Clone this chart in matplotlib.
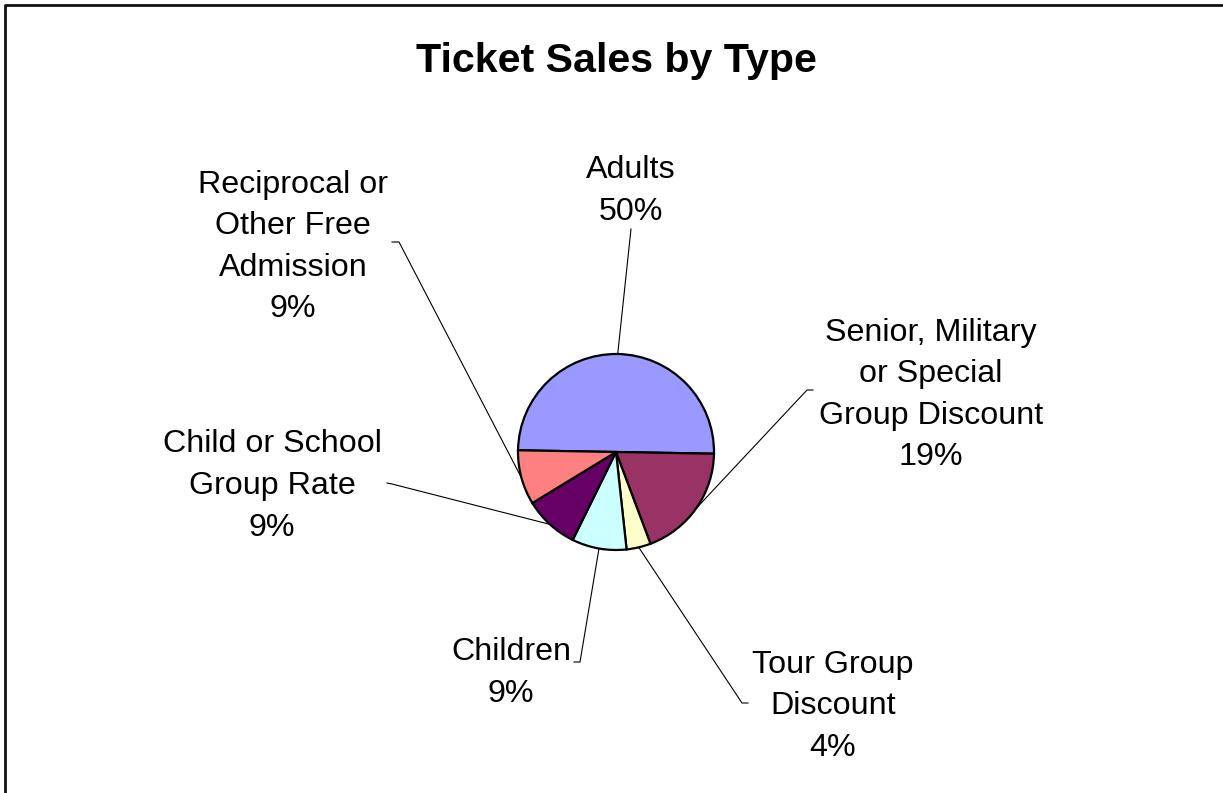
import matplotlib
matplotlib.use("Agg")
import matplotlib.pyplot as plt
import numpy as np
from matplotlib.lines import Line2D

# ticket mix, percent of sales
categories = ["Adults",
              "Senior, Military\nor Special\nGroup Discount",
              "Tour Group\nDiscount",
              "Children",
              "Child or School\nGroup Rate",
              "Reciprocal or\nOther Free\nAdmission"]
shares = [50, 19, 4, 9, 9, 9]
colors = ["#9999FF", "#993366", "#FFFFCC", "#CCFFFF", "#660066", "#FF8080"]

W, H = 1223, 793


def px(x, y):
    # pixel coords measured from top-left -> axes coords
    return x, H - y


# label block centers and the leader line bits next to the text
label_pos = [(631, 191), (931, 395), (833, 706), (511, 673), (272, 486), (293, 247)]
leader_start = [[(631, 229)],
                [(813, 390), (807, 390)],
                [(748, 703), (742, 703)],
                [(574, 662), (580, 662)],
                [(387, 483), (392, 484)],
                [(392, 242), (399, 242)]]

fig = plt.figure(figsize=(W / 100, H / 100), dpi=100)
ax = fig.add_axes([0, 0, 1, 1])

cx, cy = px(616, 452)
R = 98
wedges, _ = ax.pie(shares, colors=colors, startangle=179, counterclock=False,
                   center=(cx, cy), radius=R, frame=True,
                   wedgeprops=dict(edgecolor="black", linewidth=1.6))

ax.set_xlim(0, W)
ax.set_ylim(0, H)
ax.axis("off")

for w, lab, v, (lx, ly), pts in zip(wedges, categories, shares, label_pos, leader_start):
    ax.text(*px(lx, ly), f"{lab}\n{v}%", ha="center", va="center",
            fontsize=23.2, family="Liberation Sans", linespacing=1.5)
    mid = np.deg2rad((w.theta1 + w.theta2) / 2)
    xs = [px(*p)[0] for p in pts] + [cx + R * np.cos(mid)]
    ys = [px(*p)[1] for p in pts] + [cy + R * np.sin(mid)]
    ax.plot(xs, ys, color="black", linewidth=0.8, zorder=0)

ax.text(*px(616, 61), "Ticket Sales by Type", ha="center", va="center",
        fontsize=29.6, fontweight="bold", family="Liberation Sans")

# chart area border (only top and left edges fall inside the image)
fig.add_artist(Line2D([4.5 / W, 4.5 / W, 1], [0, 1 - 5 / H, 1 - 5 / H],
                      transform=fig.transFigure, color="#111111", linewidth=2))

fig.savefig("out.png", dpi=100)
